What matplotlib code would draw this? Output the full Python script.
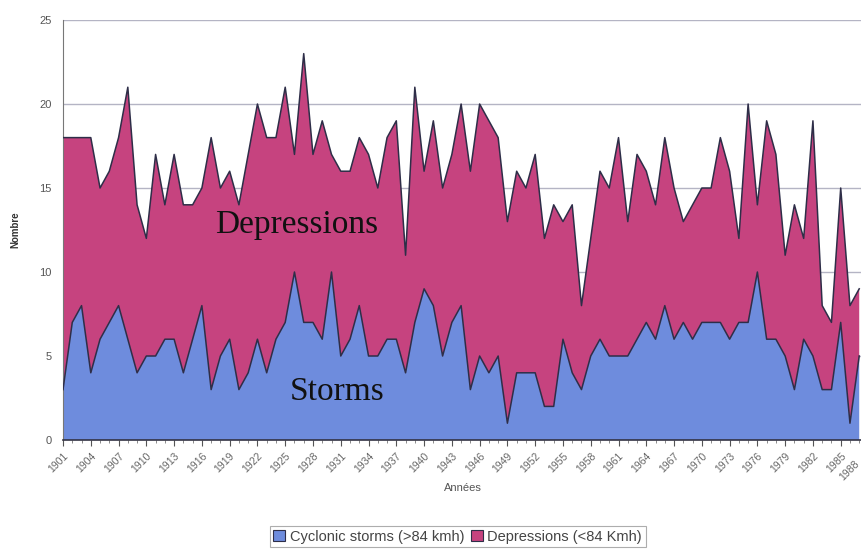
import numpy as np
import matplotlib
matplotlib.use("Agg")
import matplotlib.pyplot as plt
from matplotlib.patches import Patch

# years 1901 .. 1987 (the picture is cut just after 1987)
years = list(range(1901, 1988))

# cyclonic storms (>84 kmh) per year
storms = [3, 7, 8, 4, 6, 7, 8, 6, 4, 5,
          5, 6, 6, 4, 6, 8, 3, 5, 6, 3,
          4, 6, 4, 6, 7, 10, 7, 7, 6, 10,
          5, 6, 8, 5, 5, 6, 6, 4, 7, 9,
          8, 5, 7, 8, 3, 5, 4, 5, 1, 4,
          4, 4, 2, 2, 6, 4, 3, 5, 6, 5,
          5, 5, 6, 7, 6, 8, 6, 7, 6, 7,
          7, 7, 6, 7, 7, 10, 6, 6, 5, 3,
          6, 5, 3, 3, 7, 1, 5]

# depressions (<84 Kmh) per year, stacked on top of the storms
depressions = [15, 11, 10, 14, 9, 9, 10, 15, 10, 7,
               12, 8, 11, 10, 8, 7, 15, 10, 10, 11,
               13, 14, 14, 12, 14, 7, 16, 10, 13, 7,
               11, 10, 10, 12, 10, 12, 13, 7, 14, 7,
               11, 10, 10, 12, 13, 15, 15, 13, 12, 12,
               11, 13, 10, 12, 7, 10, 5, 7, 10, 10,
               13, 8, 11, 9, 8, 10, 9, 6, 8, 8,
               8, 11, 10, 5, 13, 4, 13, 11, 6, 11,
               6, 14, 5, 4, 8, 7, 4]

tick_years = list(range(1901, 1986, 3))
y_ticks = [0, 5, 10, 15, 20, 25]

blue = "#6E8CDD"
pink = "#C6437F"
edge = "#2E2E48"

fig = plt.figure(figsize=(8.62, 5.5), dpi=100)
ax = fig.add_axes([0.0731, 0.2, 0.9269, 0.7636])

storms_arr = np.array(storms)
total_arr = storms_arr + np.array(depressions)

ax.stackplot(years, storms, depressions, colors=[blue, pink], linewidth=0, zorder=2)
ax.plot(years, storms_arr, color=edge, linewidth=1.1, zorder=3)
ax.plot(years, total_arr, color=edge, linewidth=1.1, zorder=3)

x_right = 1987.3
ax.set_xlim(1901, x_right)
ax.set_ylim(0, 25)

# gridlines
for v in y_ticks[1:]:
    ax.axhline(v, color="#B4B4C4", linewidth=1.0, zorder=1)

ax.set_yticks(y_ticks)
ax.set_yticklabels([str(v) for v in y_ticks], fontsize=8, color="#555555",
                   family="Liberation Sans")
ax.set_xticks(tick_years)
ax.set_xticks(years, minor=True)
ax.set_xticklabels([str(y) for y in tick_years], rotation=45, ha="right",
                   rotation_mode="anchor", fontsize=7.5, color="#666666",
                   family="Liberation Sans")
ax.tick_params(axis="x", which="major", length=4, color="#555555", pad=4)
ax.tick_params(axis="x", which="minor", length=2, color="#777777")
ax.tick_params(axis="y", length=0, pad=8)

# last label, at the cut edge of the picture
ax.text(x_right - 0.9, -1.1, "1988", rotation=45, ha="right", va="top",
        rotation_mode="anchor", fontsize=7.5, color="#666666",
        family="Liberation Sans", clip_on=False)

for s in ["top", "right"]:
    ax.spines[s].set_visible(False)
ax.spines["left"].set_color("#777777")
ax.spines["bottom"].set_color("#333344")
ax.spines["bottom"].set_linewidth(1.2)

ax.set_ylabel("Nombre", fontsize=7, color="#333333", family="Liberation Sans",
              fontweight="bold", labelpad=14)
ax.set_xlabel("Années", fontsize=8, color="#555555", family="Liberation Sans",
              labelpad=6)

ax.text(1926.2, 12.8, "Depressions", fontsize=24, family="Liberation Serif",
        color="#111111", ha="center", va="center", zorder=4)
ax.text(1930.6, 2.9, "Storms", fontsize=24, family="Liberation Serif",
        color="#111111", ha="center", va="center", zorder=4)

handles = [Patch(facecolor=blue, edgecolor=edge, linewidth=0.8),
           Patch(facecolor=pink, edgecolor=edge, linewidth=0.8)]
leg = fig.legend(handles, ["Cyclonic storms (>84 kmh)", "Depressions (<84 Kmh)"],
                 loc="center", bbox_to_anchor=(0.531, 0.024), ncol=2,
                 frameon=True, fancybox=False, handlelength=0.8,
                 handleheight=0.8, handletextpad=0.3, columnspacing=0.5,
                 borderpad=0.25, prop={"family": "Liberation Sans", "size": 10.5})
leg.get_frame().set_edgecolor("#999999")
leg.get_frame().set_linewidth(0.8)
for t in leg.get_texts():
    t.set_color("#444444")

fig.savefig("out.png", dpi=100)
